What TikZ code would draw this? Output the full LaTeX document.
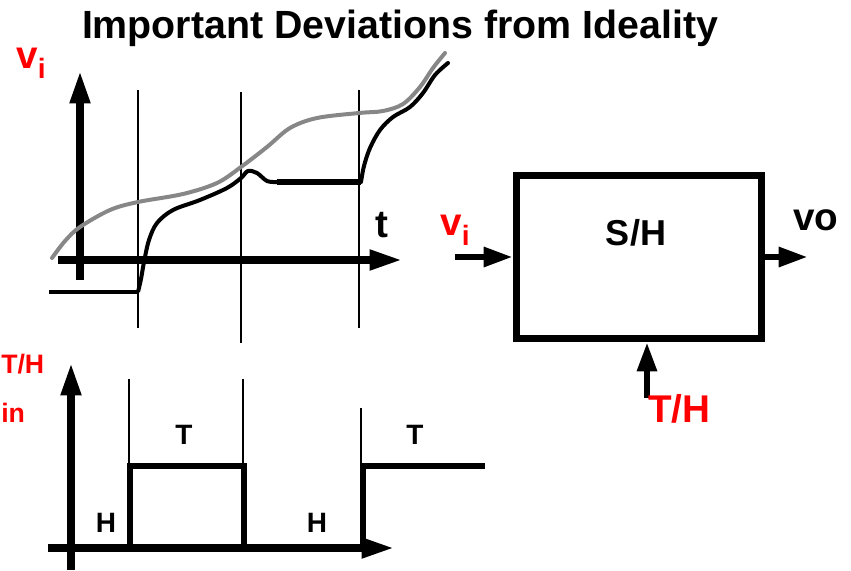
\documentclass[tikz,border=0pt]{standalone}
\usepackage{fontspec}
\setmainfont{Liberation Sans}
\usetikzlibrary{arrows.meta,positioning,calc}
\definecolor{labelred}{RGB}{255,0,0}
\definecolor{curvegray}{RGB}{135,135,135}

\begin{document}
\begin{tikzpicture}[
 x=0.75pt, y=-0.75pt,
 axis/.style={line width=6pt, -{Triangle[length=25pt,width=14pt]}},
 thinline/.style={line width=1.1pt},
 inputsig/.style={line width=3pt, curvegray, line cap=round},
 outputsig/.style={line width=3pt, line join=round},
 held/.style={line width=4.2pt},
 pulse/.style={line width=5pt, line join=miter},
 shbox/.style={rectangle, draw, line width=5.25pt, minimum width=183.75pt, minimum height=122.25pt},
 sigarrow/.style={line width=5pt, -{Triangle[length=22pt,width=14pt]}},
 redlabel/.style={text=labelred, font=\bfseries\fontsize{29}{30}\selectfont, inner sep=0pt},
 smallred/.style={text=labelred, font=\bfseries\fontsize{20}{21}\selectfont, inner sep=0pt},
 blacklabel/.style={font=\bfseries\fontsize{29}{30}\selectfont, inner sep=0pt},
 phase/.style={font=\bfseries\fontsize{21}{22}\selectfont, inner sep=0pt, anchor=base}
]
\useasboundingbox (0,0) rectangle (851,571);

% Title
\node[font=\bfseries\fontsize{29.5}{31}\selectfont, inner sep=0pt, anchor=base] (title) at (400,38) {Important Deviations from Ideality};

% Sampling instants
\draw[thinline] (138,90) -- (138,328);
\draw[thinline] (241,92) -- (241,343);
\draw[thinline] (359,90) -- (359,328);
\draw[thinline] (129,379) -- (129,466);
\draw[thinline] (243,379) -- (243,466);
\draw[thinline] (361,408) -- (361,466);

% Upper plot: input and S/H output
\draw[axis] (80,280) -- (80,70);
\draw[axis] (58,260) -- (403,260);
\node[redlabel, anchor=base west] (vitop) at (16,68) {v\raisebox{-7.5pt}{\fontsize{21}{22}\selectfont i}};
\node[blacklabel, anchor=base west] (tlabel) at (375,237) {t};

\draw[inputsig] plot[smooth, tension=0.55] coordinates {
 (52,258) (65,241) (80,227) (110,210) (138,202) (183,194) (217,183) (241,167)
 (267,147) (290,128) (317,118) (359,113) (383,111) (403,104) (420,87) (433,68) (445,53)};

\draw[outputsig] (49,292) -- (138,292);
\draw[outputsig] plot[smooth, tension=0.55] coordinates {
 (138,292) (141,279) (144,262) (149,240) (157,223) (173,210) (200,200) (227,188)
 (241,178) (248,171) (257,173) (267,181) (277,182)};
\draw[held] (277,182) -- (361,182);
\draw[outputsig, line cap=round] plot[smooth, tension=0.55] coordinates {
 (361,182) (364,166) (370,148) (380,130) (393,117) (410,107) (423,93) (435,75) (448,63)};

% Lower plot: track/hold clock
\draw[axis] (71,570) -- (71,362);
\draw[axis] (48,548) -- (395,548);
\node[smallred, anchor=base west] (thleft) at (1,373) {T/H};
\node[smallred, anchor=base west] (inleft) at (1,422) {in};

\draw[pulse] (130,548) -- (130,466) -- (244,466) -- (244,548);
\draw[pulse] (363,548) -- (363,466) -- (485,466);

\node[phase] (hold1) at (106,532) {H};
\node[phase] (track1) at (184,444) {T};
\node[phase] (hold2) at (317,532) {H};
\node[phase] (track2) at (415,444) {T};

% S/H block
\node[shbox] (sh) at (639,257) {};
\node[font=\bfseries\fontsize{27}{28}\selectfont, inner sep=0pt] (shname) at ($(sh.center)+(-3,-24)$) {S/H};

\coordinate (vin) at (455,257);
\coordinate (vout) at (808,257);
\coordinate (clk) at (647,398);

\draw[sigarrow] (vin) -- (sh.west);
\draw[sigarrow] (sh.east) -- (vout);
\draw[sigarrow] (clk) -- (clk |- sh.south);

\node[redlabel, anchor=base west] (vilabel) at (440,235) {v\raisebox{-7.5pt}{\fontsize{21}{22}\selectfont i}};
\node[blacklabel, anchor=base west] (volabel) at (793,230) {vo};
\node[redlabel, anchor=base west] (thlabel) at (648,422) {T/H};

\end{tikzpicture}
\end{document}
